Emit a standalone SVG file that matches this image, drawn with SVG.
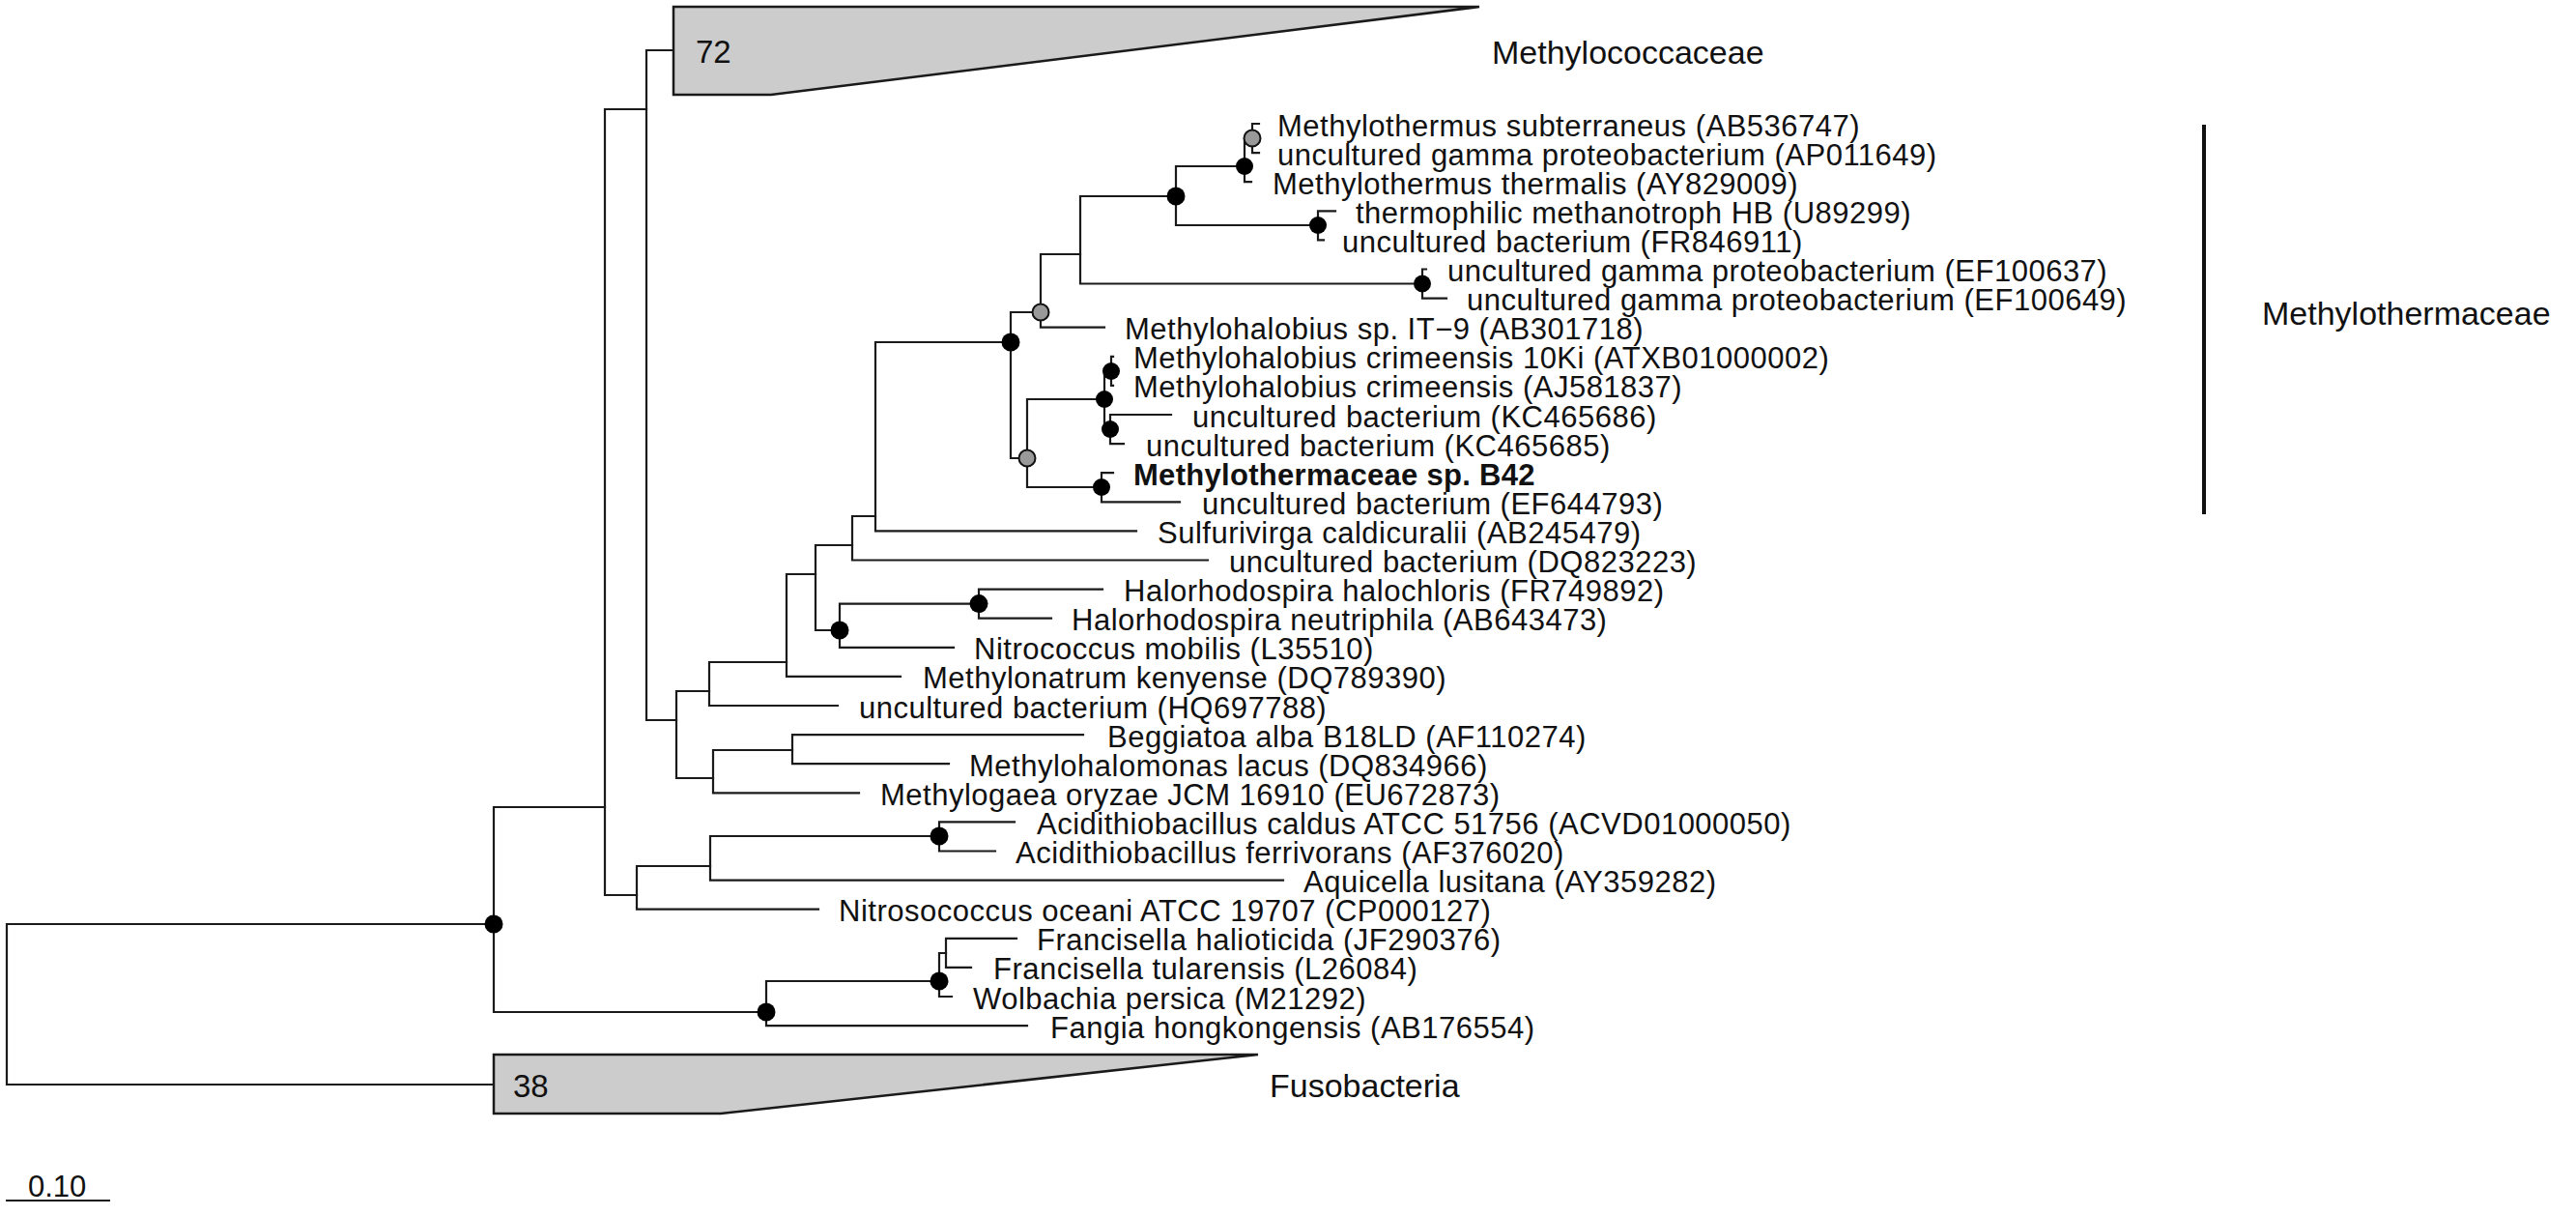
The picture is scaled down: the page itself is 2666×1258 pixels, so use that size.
<svg xmlns="http://www.w3.org/2000/svg" width="2666" height="1258" viewBox="0 0 2666 1258">
<style>
text{font-family:"Liberation Sans",Arial,Helvetica,sans-serif;font-size:31px;letter-spacing:0.5px;fill:#111}
.b{font-weight:bold;letter-spacing:0.3px}
.g{font-size:34px;letter-spacing:0}
.n{font-size:33px;letter-spacing:0}
.br{fill:none;stroke:#1a1a1a;stroke-width:2.2;stroke-linecap:square}
.clade{fill:#cccccc;stroke:#1a1a1a;stroke-width:2.5;stroke-linejoin:miter}
.dk{fill:#000}
.gr{fill:#999;stroke:#111;stroke-width:2}
</style>
<rect width="2666" height="1258" fill="#fff"/>
<g id="connectors" class="br">
<path d="M7,956 V1122 M7,956 H511 M7,1122 H511"/>
<path d="M511,835 V1047 M511,835 H626 M511,1047 H793"/>
<path d="M626,113 V926 M626,113 H669 M626,926 H659"/>
<path d="M669,52 V745 M669,52 H697 M669,745 H700"/>
<path d="M700,715 V805 M700,715 H734 M700,805 H738"/>
<path d="M734,685 V730 M734,685 H814 M734,730 H867"/>
<path d="M814,594 V699.9 M814,594 H844 M814,699.9 H932"/>
<path d="M844,564 V652 M844,564 H882 M844,652 H869"/>
<path d="M882,534 V579.5 M882,534 H906 M882,579.5 H1250"/>
<path d="M906,354 V549.4 M906,354 H1046 M906,549.4 H1176"/>
<path d="M1046,323 V474 M1046,323 H1077 M1046,474 H1063"/>
<path d="M1077,263 V338.7 M1077,263 H1118 M1077,338.7 H1143"/>
<path d="M1118,203 V293.5 M1118,203 H1217 M1118,293.5 H1472"/>
<path d="M1217,172 V233 M1217,172 H1288 M1217,233 H1364"/>
<path d="M1288,143 V188.2 M1288,143 H1296 M1288,188.2 H1295"/>
<path d="M1296,128 V158.1 M1296,128 H1303 M1296,158.1 H1303"/>
<path d="M1364,218.3 V248.4 M1364,218.3 H1382 M1364,248.4 H1370"/>
<path d="M1472,278.5 V308.6 M1472,278.5 H1476 M1472,308.6 H1497"/>
<path d="M1063,413 V504 M1063,413 H1143 M1063,504 H1140"/>
<path d="M1143,384 V444 M1143,384 H1150 M1143,444 H1149"/>
<path d="M1150,368.8 V398.9 M1150,368.8 H1152 M1150,398.9 H1152"/>
<path d="M1149,429 V459.1 M1149,429 H1212 M1149,459.1 H1163"/>
<path d="M1140,489.2 V519.3 M1140,489.2 H1152 M1140,519.3 H1221"/>
<path d="M869,624.6 V669.8 M869,624.6 H1013 M869,669.8 H987"/>
<path d="M1013,609.6 V639.7 M1013,609.6 H1141 M1013,639.7 H1088"/>
<path d="M738,776 V820.3 M738,776 H820 M738,820.3 H889"/>
<path d="M820,760.1 V790.2 M820,760.1 H1121 M820,790.2 H982"/>
<path d="M659,896 V940.7 M659,896 H735 M659,940.7 H847"/>
<path d="M735,865 V910.6 M735,865 H972 M735,910.6 H1328"/>
<path d="M972,850.4 V880.5 M972,850.4 H1050 M972,880.5 H1030"/>
<path d="M793,1015 V1061.1 M793,1015 H972 M793,1061.1 H1063"/>
<path d="M972,986 V1031 M972,986 H979 M972,1031 H985"/>
<path d="M979,970.8 V1000.9 M979,970.8 H1052 M979,1000.9 H1005"/>
</g>
<g id="clade-methylococcaceae">
<polygon class="clade" points="697,7 1531,7 798,98 697,98"/>
<text class="n" x="720" y="65">72</text>
<text class="g" x="1544" y="66">Methylococcaceae</text>
</g>
<g id="clade-fusobacteria">
<polygon class="clade" points="511,1091 1302,1091 746,1152 511,1152"/>
<text class="n" x="531" y="1135">38</text>
<text class="g" x="1314" y="1135">Fusobacteria</text>
</g>
<g id="support-nodes">
<circle id="nA" class="dk" cx="511" cy="956" r="9.5"/>
<circle id="nM1" class="dk" cx="1046" cy="354" r="9.5"/>
<circle id="nG1" class="gr" cx="1077" cy="323" r="8.5"/>
<circle id="nP1" class="dk" cx="1217" cy="203" r="9.5"/>
<circle id="nR1" class="dk" cx="1288" cy="172" r="9"/>
<circle id="nR2" class="gr" cx="1296" cy="143" r="8.5"/>
<circle id="nS1" class="dk" cx="1364" cy="233" r="9"/>
<circle id="nQ1" class="dk" cx="1472" cy="293.5" r="9"/>
<circle id="nG2" class="gr" cx="1063" cy="474" r="8.5"/>
<circle id="nK1" class="dk" cx="1143" cy="413" r="9"/>
<circle id="nK3" class="dk" cx="1150" cy="384" r="9"/>
<circle id="nK4" class="dk" cx="1149" cy="444" r="9"/>
<circle id="nK2" class="dk" cx="1140" cy="504" r="9"/>
<circle id="nT1" class="dk" cx="869" cy="652" r="9.5"/>
<circle id="nT2" class="dk" cx="1013" cy="624.6" r="9.5"/>
<circle id="nU1" class="dk" cx="972" cy="865" r="9.5"/>
<circle id="nV1" class="dk" cx="793" cy="1047" r="9.5"/>
<circle id="nV2" class="dk" cx="972" cy="1015" r="9.5"/>
</g>
<g id="leaves">
<g id="leaf1"><text x="1322" y="140.5">Methylothermus subterraneus (AB536747)</text></g>
<g id="leaf2"><text x="1322" y="170.6">uncultured gamma proteobacterium (AP011649)</text></g>
<g id="leaf3"><text x="1317" y="200.7">Methylothermus thermalis (AY829009)</text></g>
<g id="leaf4"><text x="1403" y="230.8">thermophilic methanotroph HB (U89299)</text></g>
<g id="leaf5"><text x="1389" y="260.9">uncultured bacterium (FR846911)</text></g>
<g id="leaf6"><text x="1498" y="291">uncultured gamma proteobacterium (EF100637)</text></g>
<g id="leaf7"><text x="1518" y="321.1">uncultured gamma proteobacterium (EF100649)</text></g>
<g id="leaf8"><text x="1164" y="351.2">Methylohalobius sp. IT−9 (AB301718)</text></g>
<g id="leaf9"><text x="1173" y="381.3">Methylohalobius crimeensis 10Ki (ATXB01000002)</text></g>
<g id="leaf10"><text x="1173" y="411.4">Methylohalobius crimeensis (AJ581837)</text></g>
<g id="leaf11"><text x="1234" y="441.5">uncultured bacterium (KC465686)</text></g>
<g id="leaf12"><text x="1186" y="471.6">uncultured bacterium (KC465685)</text></g>
<g id="leaf13"><text class="b" x="1173" y="501.7">Methylothermaceae sp. B42</text></g>
<g id="leaf14"><text x="1244" y="531.8">uncultured bacterium (EF644793)</text></g>
<g id="leaf15"><text x="1198" y="561.9">Sulfurivirga caldicuralii (AB245479)</text></g>
<g id="leaf16"><text x="1272" y="592">uncultured bacterium (DQ823223)</text></g>
<g id="leaf17"><text x="1163" y="622.1">Halorhodospira halochloris (FR749892)</text></g>
<g id="leaf18"><text x="1109" y="652.2">Halorhodospira neutriphila (AB643473)</text></g>
<g id="leaf19"><text x="1008" y="682.3">Nitrococcus mobilis (L35510)</text></g>
<g id="leaf20"><text x="955" y="712.4">Methylonatrum kenyense (DQ789390)</text></g>
<g id="leaf21"><text x="889" y="742.5">uncultured bacterium (HQ697788)</text></g>
<g id="leaf22"><text x="1146" y="772.6">Beggiatoa alba B18LD (AF110274)</text></g>
<g id="leaf23"><text x="1003" y="802.7">Methylohalomonas lacus (DQ834966)</text></g>
<g id="leaf24"><text x="911" y="832.8">Methylogaea oryzae JCM 16910 (EU672873)</text></g>
<g id="leaf25"><text x="1073" y="862.9">Acidithiobacillus caldus ATCC 51756 (ACVD01000050)</text></g>
<g id="leaf26"><text x="1051" y="893">Acidithiobacillus ferrivorans (AF376020)</text></g>
<g id="leaf27"><text x="1349" y="923.1">Aquicella lusitana (AY359282)</text></g>
<g id="leaf28"><text x="868" y="953.2">Nitrosococcus oceani ATCC 19707 (CP000127)</text></g>
<g id="leaf29"><text x="1073" y="983.3">Francisella halioticida (JF290376)</text></g>
<g id="leaf30"><text x="1028" y="1013.4">Francisella tularensis (L26084)</text></g>
<g id="leaf31"><text x="1007" y="1043.5">Wolbachia persica (M21292)</text></g>
<g id="leaf32"><text x="1087" y="1073.6">Fangia hongkongensis (AB176554)</text></g>
</g>
<g id="group-methylothermaceae">
<rect x="2279" y="129" width="4" height="403" fill="#111"/>
<text class="g" x="2341" y="336">Methylothermaceae</text>
</g>
<g id="scale-bar">
<path d="M6,1242 H114" stroke="#1a1a1a" stroke-width="2.2"/>
<text x="29" y="1238" style="letter-spacing:0">0.10</text>
</g>
</svg>
